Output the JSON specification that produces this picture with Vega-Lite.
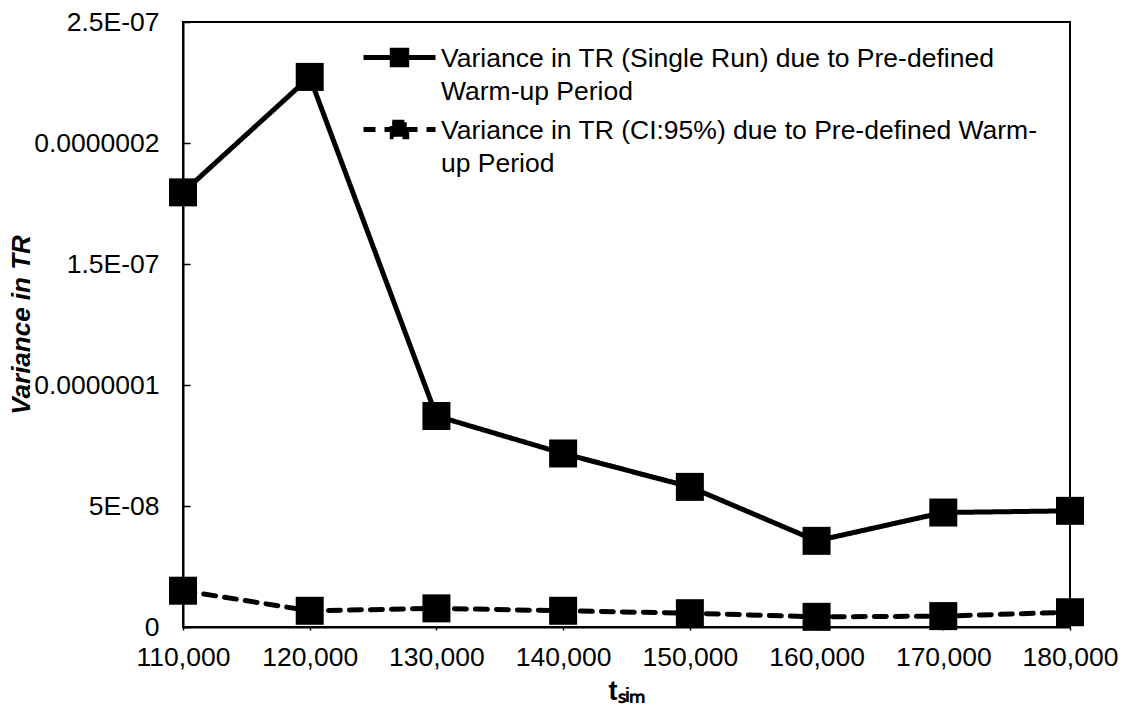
{
  "$schema": "https://vega.github.io/schema/vega-lite/v6.json",
  "width": 887,
  "height": 605,
  "autosize": "none",
  "padding": {"left": 183, "top": 22, "right": 57, "bottom": 88},
  "background": "white",
  "config": {
    "font": "Liberation Sans",
    "view": {"stroke": "black", "strokeWidth": 2},
    "style": {"guide-label": {"lineHeight": 33}},
    "axis": {
      "domainColor": "black",
      "domainWidth": 2,
      "tickColor": "black",
      "tickWidth": 1.5,
      "labelColor": "black",
      "titleColor": "black",
      "labelFont": "Liberation Sans",
      "titleFont": "Liberation Sans",
      "labelFontSize": 26.5,
      "grid": false
    }
  },
  "data": {
    "values": [
      {"tsim": 110000, "series": "single", "variance": 1.796e-7},
      {"tsim": 120000, "series": "single", "variance": 2.273e-7},
      {"tsim": 130000, "series": "single", "variance": 8.72e-8},
      {"tsim": 140000, "series": "single", "variance": 7.17e-8},
      {"tsim": 150000, "series": "single", "variance": 5.79e-8},
      {"tsim": 160000, "series": "single", "variance": 3.56e-8},
      {"tsim": 170000, "series": "single", "variance": 4.73e-8},
      {"tsim": 180000, "series": "single", "variance": 4.80e-8},
      {"tsim": 110000, "series": "ci95", "variance": 1.50e-8},
      {"tsim": 120000, "series": "ci95", "variance": 6.7e-9},
      {"tsim": 130000, "series": "ci95", "variance": 7.7e-9},
      {"tsim": 140000, "series": "ci95", "variance": 6.7e-9},
      {"tsim": 150000, "series": "ci95", "variance": 5.7e-9},
      {"tsim": 160000, "series": "ci95", "variance": 4.2e-9},
      {"tsim": 170000, "series": "ci95", "variance": 4.5e-9},
      {"tsim": 180000, "series": "ci95", "variance": 6.1e-9}
    ]
  },
  "encoding": {
    "x": {
      "field": "tsim",
      "type": "quantitative",
      "scale": {"domain": [110000, 180000], "nice": false, "zero": false},
      "axis": {
        "values": [110000, 120000, 130000, 140000, 150000, 160000, 170000, 180000],
        "format": ",d",
        "labelOverlap": false,
        "labelFlush": false,
        "tickSize": 3,
        "labelPadding": 14,
        "title": "tₛᵢₘ",
        "titleFontSize": 27,
        "titleFontWeight": "bold",
        "titlePadding": 8
      }
    },
    "y": {
      "field": "variance",
      "type": "quantitative",
      "scale": {"domain": [0, 2.5e-7], "nice": false},
      "axis": {
        "values": [0, 5e-8, 1e-7, 1.5e-7, 2e-7, 2.5e-7],
        "labelExpr": "datum.value == 0 ? '0' : datum.value < 7e-8 ? '5E-08' : abs(datum.value - 1e-7) < 1e-9 ? '0.0000001' : abs(datum.value - 1.5e-7) < 1e-9 ? '1.5E-07' : abs(datum.value - 2e-7) < 1e-9 ? '0.0000002' : '2.5E-07'",
        "labelOverlap": false,
        "labelFlush": false,
        "tickSize": -7,
        "labelPadding": 31,
        "title": "Variance in TR",
        "titleFontSize": 26,
        "titleFontWeight": "bold",
        "titleFontStyle": "italic",
        "titlePadding": -1
      }
    }
  },
  "layer": [
    {
      "mark": {"type": "line", "color": "black", "strokeWidth": 5, "strokeCap": "round"},
      "encoding": {
        "strokeDash": {
          "field": "series",
          "type": "nominal",
          "scale": {"domain": ["single", "ci95"], "range": [[1, 0], [12, 9]]},
          "legend": {
            "orient": "none",
            "legendX": 178,
            "legendY": 24,
            "title": null,
            "labelExpr": "datum.value == 'single' ? ['Variance in TR (Single Run) due to Pre-defined', 'Warm-up Period'] : ['Variance in TR (CI:95%) due to Pre-defined Warm-', 'up Period']",
            "labelFontSize": 26.5,
            "labelColor": "black",
            "labelFont": "Liberation Sans",
            "labelBaseline": "alphabetic",
            "labelLimit": 800,
            "labelOffset": 39,
            "symbolType": "M-1,-0.5H3M0.6,-0.9h0.8v0.8h-0.8z",
            "symbolSize": 1296,
            "symbolStrokeWidth": 5,
            "symbolStrokeColor": "black",
            "symbolFillColor": "black",
            "rowPadding": 7
          }
        }
      }
    },
    {
      "mark": {"type": "point", "shape": "square", "filled": true, "color": "black", "size": 784, "opacity": 1},
      "encoding": {"detail": {"field": "series"}}
    }
  ]
}
